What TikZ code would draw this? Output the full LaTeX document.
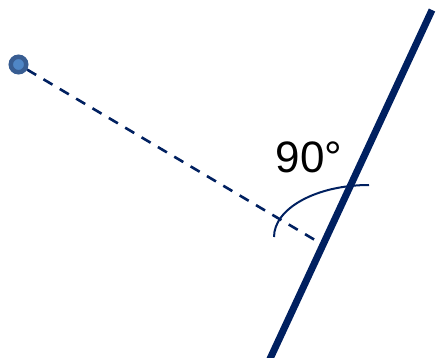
\documentclass[tikz,border=0pt]{standalone}
\usepackage{fontspec}
\setmainfont{Liberation Sans}
\usetikzlibrary{positioning}
\definecolor{linenavy}{RGB}{0, 32, 96}
\definecolor{dotedge}{RGB}{56, 93, 146}
\definecolor{dotfill}{RGB}{79, 134, 198}
\tikzset{
  pointdot/.style={
    circle, draw=dotedge, fill=dotfill,
    line width=4.5pt, minimum size=15.5pt, inner sep=0pt
  },
  mainline/.style={
    linenavy, line width=7pt
  },
  perpline/.style={
    linenavy, line width=2.6pt, dash pattern=on 10.5pt off 8.5pt
  },
  anglearc/.style={
    linenavy, line width=2pt
  },
  anglelabel/.style={
    font=\fontsize{44}{44}\selectfont, inner sep=0pt, text=black
  }
}
\begin{document}
\begin{tikzpicture}[x=1pt, y=-1pt]
  \useasboundingbox (0,0) rectangle (436,358);

  % the line and the foot of the perpendicular
  \coordinate (ltop) at (432,10);
  \coordinate (lbot) at (269,361);
  \coordinate (foot) at (320,243);

  % the point
  \node[pointdot] (pt) at (18.5,64.5) {};

  % perpendicular
  \draw[perpline] (pt) -- (foot);
  \draw[mainline] (ltop) -- (lbot);

  % angle mark
  \draw[anglearc] (274,237) arc[start angle=180, end angle=90,
    x radius=95, y radius=-52];
  \node[anglelabel] (ang) at (309,157.5) {90°};
\end{tikzpicture}
\end{document}
